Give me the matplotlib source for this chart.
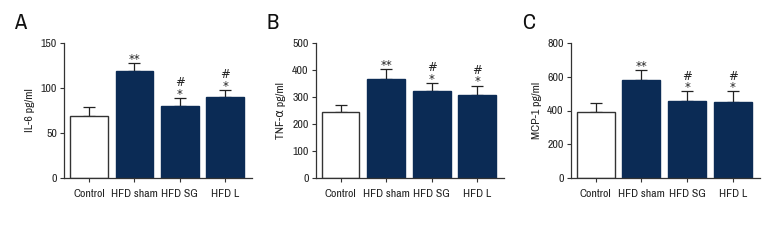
import matplotlib
matplotlib.use("Agg")
import matplotlib.pyplot as plt

plt.rcParams['font.family'] = ['Archivo Narrow', 'Asap Condensed', 'DejaVu Sans']

categories = ["Control", "HFD sham", "HFD SG", "HFD L"]

il6_mean = [69, 119, 80, 90]
il6_err = [10, 9, 9, 8]
tnf_mean = [245, 368, 321, 308]
tnf_err = [27, 35, 31, 34]
mcp_mean = [393, 579, 458, 450]
mcp_err = [50, 61, 56, 63]

sig_marks = ["", "**", "#\n*", "#\n*"]

panels = [
    ("A", "IL-6 pg/ml", il6_mean, il6_err, [0, 50, 100, 150]),
    ("B", "TNF-α pg/ml", tnf_mean, tnf_err, [0, 100, 200, 300, 400, 500]),
    ("C", "MCP-1 pg/ml", mcp_mean, mcp_err, [0, 200, 400, 600, 800]),
]

W, H = 780, 240
fig = plt.figure(figsize=(7.8, 2.4), dpi=100)

axes_px = [(64, 252), (315.5, 504), (570.5, 760)]
letter_x = [20, 273, 529]
top_px, bot_px = 43, 178

navy = "#0b2b55"
edge = "#333333"

for (letter, ylabel, means, errs, ticks), (l, r), lx in zip(panels, axes_px, letter_x):
    ax = fig.add_axes([l / W, 1 - bot_px / H, (r - l) / W, (bot_px - top_px) / H])
    x = list(range(len(categories)))
    colors = ["white"] + [navy] * 3
    ax.bar(x, means, width=0.83, color=colors, edgecolor=[edge] + [navy] * 3,
           linewidth=1.0, zorder=2)
    ax.errorbar(x, means, yerr=[[0] * 4, errs], fmt="none", ecolor="#222222",
                elinewidth=0.9, capsize=4.5, capthick=0.9, zorder=1)
    for xi, m, e, s in zip(x, means, errs, sig_marks):
        if s:
            ax.annotate(s, xy=(xi, m + e), xytext=(0, -2), textcoords="offset points",
                        ha="center", va="bottom", fontsize=8.5, linespacing=0.85,
                        color="#222222", family=["DejaVu Sans"])
    ax.set_xlim(-0.55, 3.59)
    ax.set_ylim(ticks[0], ticks[-1])
    ax.set_yticks(ticks)
    ax.set_xticks(x)
    ax.set_xticklabels(categories)
    ax.spines["top"].set_visible(False)
    ax.spines["right"].set_visible(False)
    for sp in ("left", "bottom"):
        ax.spines[sp].set_color("#333333")
        ax.spines[sp].set_linewidth(0.9)
    ax.tick_params(axis="both", labelsize=8.5, colors="#333333", labelcolor="#222222",
                   length=3, width=0.8)
    ax.tick_params(axis="x", pad=5)
    ax.tick_params(axis="y", pad=2)
    ax.set_ylabel(ylabel, fontsize=8.5, color="#222222", labelpad=4)
    fig.text(lx / W, 1 - 23 / H, letter, fontsize=16, ha="center", va="center",
             color="#111111")

fig.savefig("out.png", dpi=100, facecolor="white")
